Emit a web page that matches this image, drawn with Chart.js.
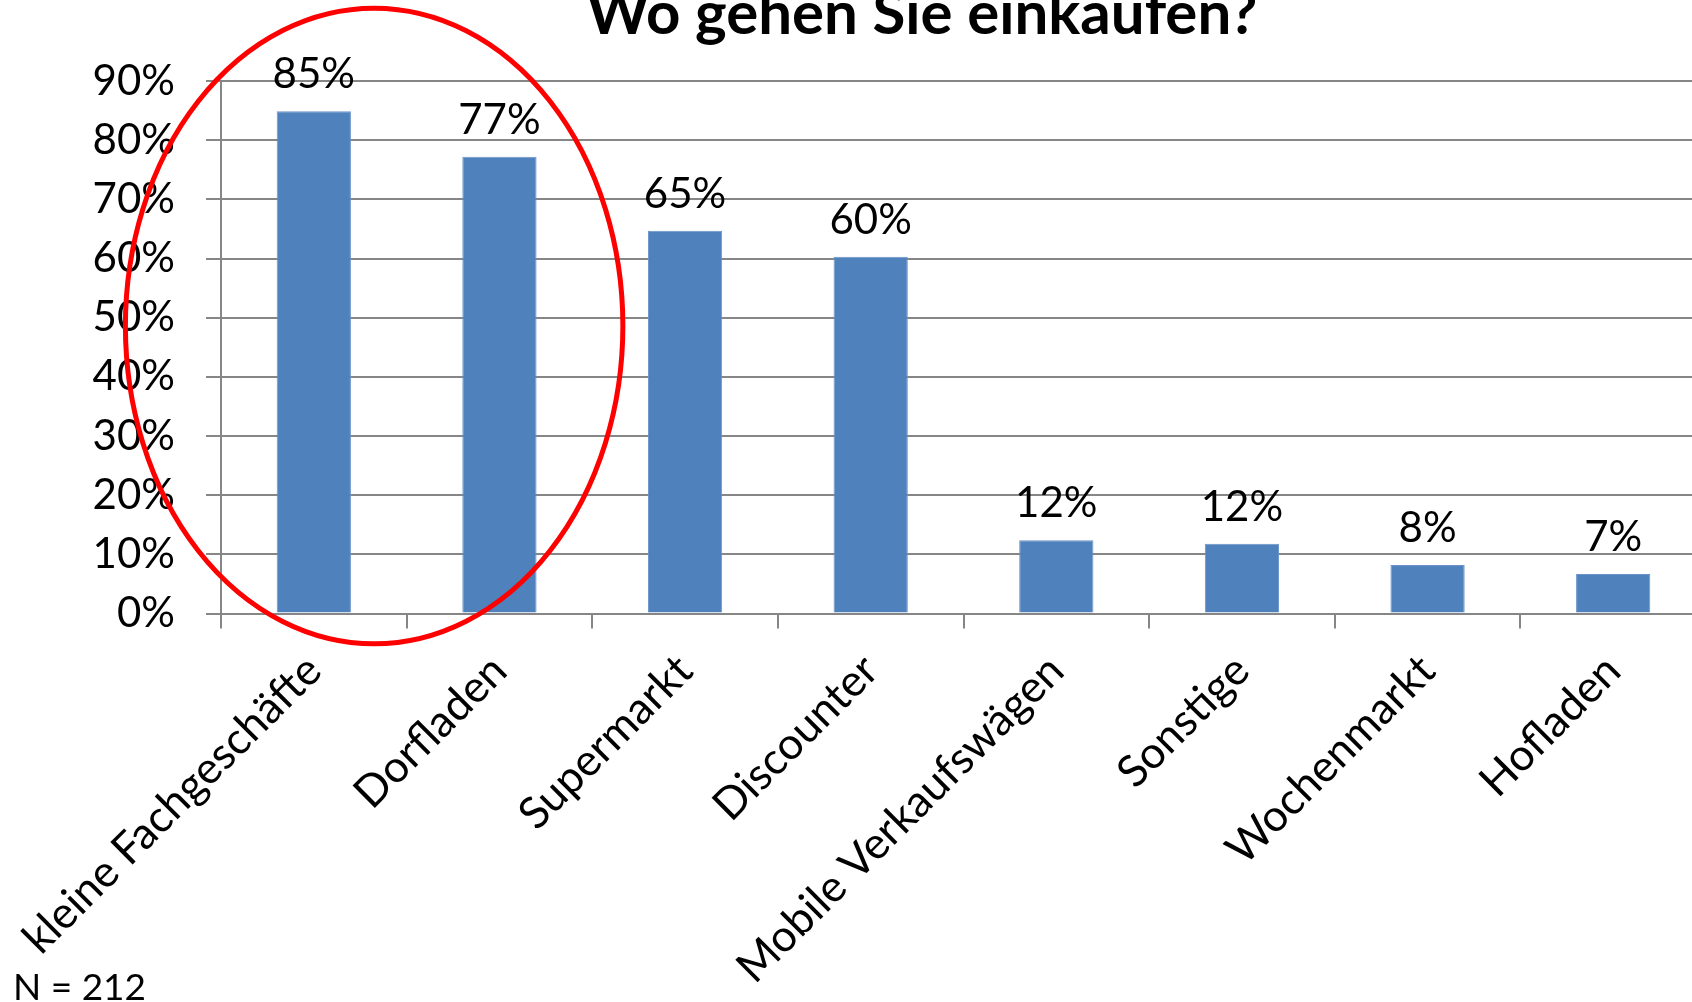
<!DOCTYPE html>
<html><head><meta charset="utf-8">
<script src="https://cdn.jsdelivr.net/npm/chart.js@4.4.0/dist/chart.umd.min.js"></script>
<style>
html,body{margin:0;padding:0;overflow:hidden;background:#fff;width:1692px;height:1002px;position:relative;}
#c{position:absolute;left:0;top:-30px;}
</style></head><body>
<canvas id="c" width="1831" height="1040"></canvas>
<script>
const titleText = 'Wo gehen Sie einkaufen?';
const noteText = 'N = 212';
const categories = ['kleine Fachgeschäfte','Dorfladen','Supermarkt','Discounter','Mobile Verkaufswägen','Sonstige','Wochenmarkt','Hofladen'];
const values = [84.9, 77.2, 64.7, 60.3, 12.4, 11.8, 8.2, 6.7];
const valueLabels = ['85%','77%','65%','60%','12%','12%','8%','7%'];
const yTickValues = [0,10,20,30,40,50,60,70,80,90];
const yTickLabels = ['0%','10%','20%','30%','40%','50%','60%','70%','80%','90%'];
// highlight ellipse in data units (category index, percent)
const highlight = {xCenter: 0.325, yCenter: 48.6, xRadius: 1.34, yRadius: 53.7};

const GRAY = '#868686';
const FONT = 'Lato';

const barLabels = {
  id: 'barLabels',
  afterDatasetsDraw(chart) {
    const ctx = chart.ctx;
    const meta = chart.getDatasetMeta(0);
    ctx.save();
    ctx.font = '42px ' + FONT;
    ctx.fillStyle = '#000';
    ctx.textAlign = 'center';
    ctx.textBaseline = 'alphabetic';
    meta.data.forEach((bar, i) => ctx.fillText(valueLabels[i], bar.x, bar.y - 23));
    ctx.restore();
  }
};
const ellipse = {
  id: 'ellipse',
  afterDraw(chart) {
    const xs = chart.scales.x, ys = chart.scales.y;
    const cw = xs.getPixelForValue(1) - xs.getPixelForValue(0);
    const cx = xs.getPixelForValue(0) + highlight.xCenter * cw;
    const cy = ys.getPixelForValue(highlight.yCenter);
    const rx = highlight.xRadius * cw;
    const ry = ys.getPixelForValue(0) - ys.getPixelForValue(highlight.yRadius);
    const ctx = chart.ctx;
    ctx.save();
    ctx.beginPath();
    ctx.ellipse(cx, cy, rx, ry, 0, 0, Math.PI * 2);
    ctx.strokeStyle = '#ff0000';
    ctx.lineWidth = 5;
    ctx.stroke();
    ctx.restore();
  }
};

new Chart(document.getElementById('c'), {
  type: 'bar',
  data: {
    labels: categories,
    datasets: [{
      data: values,
      backgroundColor: '#4f81bd',
      borderColor: '#6a94c8',
      borderWidth: 1,
      categoryPercentage: 1.0,
      barPercentage: 0.4
    }]
  },
  options: {
    responsive: false,
    animation: false,
    layout: {padding: {left: 13, top: 0, right: 0, bottom: 0}},
    plugins: {
      legend: {display: false},
      tooltip: {enabled: false},
      title: {
        display: true, text: titleText, color: '#000',
        font: {family: FONT, size: 60, weight: 'bold', lineHeight: 1.2},
        padding: {top: 9, bottom: 30}
      },
      subtitle: {
        display: true, text: noteText, position: 'bottom', align: 'start', color: '#000',
        font: {family: FONT, size: 37, weight: 'normal', lineHeight: 1.2},
        padding: {top: -40, bottom: 0}
      }
    },
    scales: {
      x: {
        afterFit(s) { s.height = 392; s.paddingLeft = 0; s.paddingRight = 0; },
        grid: {offset: true, drawOnChartArea: false, drawTicks: true, tickLength: 15, color: GRAY, lineWidth: 2},
        border: {color: GRAY, width: 2},
        ticks: {color: '#000', font: {family: FONT, size: 44}, minRotation: 45, maxRotation: 45, autoSkip: false, padding: 16}
      },
      y: {
        min: 0, max: 90,
        afterFit(s) { s.width = 208; },
        afterBuildTicks(s) { s.ticks = yTickValues.map(v => ({value: v})); },
        grid: {color: GRAY, lineWidth: 2, tickLength: 15},
        border: {color: GRAY, width: 2},
        ticks: {color: '#000', font: {family: FONT, size: 42}, padding: 31,
          callback: (v) => yTickLabels[yTickValues.indexOf(v)]}
      },
      y2: {
        position: 'right', display: true,
        afterFit(s) { s.width = 125; },
        grid: {display: false}, border: {display: false}, ticks: {display: false}
      }
    }
  },
  plugins: [barLabels, ellipse]
});
</script>
</body></html>
